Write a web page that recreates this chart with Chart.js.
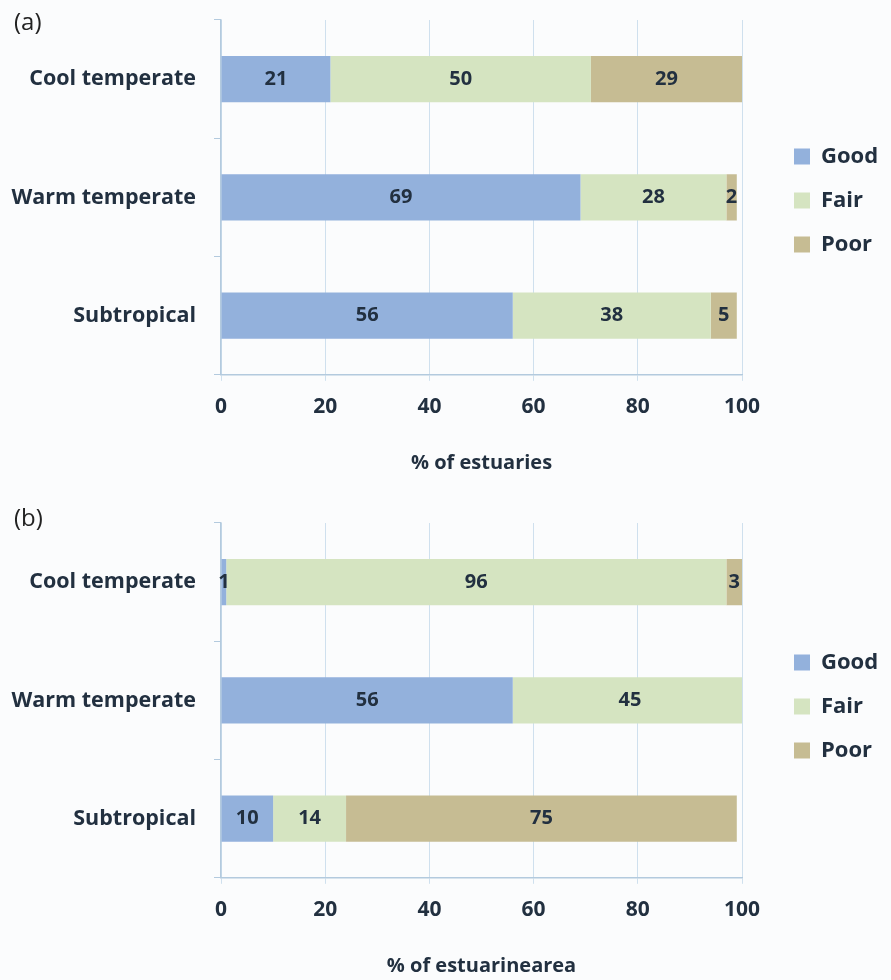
<!DOCTYPE html>
<html>
<head>
<meta charset="utf-8">
<script src="https://cdn.jsdelivr.net/npm/chart.js@4.4.1/dist/chart.umd.min.js"></script>
<style>
  body { margin: 0; background: #fbfcfd; }
  .panel { position: absolute; left: 0; width: 891px; }
  .tag { position: absolute; left: 14px; font: 24px "Open Sans", sans-serif; color: #222; }
</style>
</head>
<body>
<div class="panel" style="top:0;height:480px"><canvas id="chartA" width="891" height="480"></canvas></div>
<div class="tag" style="top:4px">(a)</div>
<div class="panel" style="top:480px;height:500px"><canvas id="chartB" width="891" height="500"></canvas></div>
<div class="tag" style="top:500px">(b)</div>
<script>
categories = ['Cool temperate', 'Warm temperate', 'Subtropical'];
series_names = ['Good', 'Fair', 'Poor'];

// (a) % of estuaries
good_a = [21, 69, 56];
fair_a = [50, 28, 38];
poor_a = [29, 2, 5];

// (b) % of estuarine area
good_b = [1, 56, 10];
fair_b = [96, 45, 14];
poor_b = [3, null, 75];

x_ticks = [0, 20, 40, 60, 80, 100];

colors = ['#93b1dc', '#d5e4c1', '#c6bc93'];
text_color = '#223040';
grid_color = '#cfe0ee';
axis_color = '#b3cade';

/**
 * Writes the value of each bar segment in its middle
 */
const valueLabels = {
  id: 'valueLabels',
  afterDatasetsDraw(chart) {
    const ctx = chart.ctx;
    ctx.save();
    ctx.font = 'bold 20px "Open Sans", sans-serif';
    ctx.fillStyle = text_color;
    ctx.textAlign = 'center';
    ctx.textBaseline = 'middle';
    chart.data.datasets.forEach(function(ds, i) {
      const meta = chart.getDatasetMeta(i);
      meta.data.forEach(function(bar, j) {
        const v = ds.data[j];
        if (v == null) return;
        ctx.fillText(String(v), (bar.x + bar.base) / 2, bar.y);
      });
    });
    ctx.restore();
  }
};

// legend keeps a fixed width so the plot ends at 100 where the original does,
// then gets nudged to where the original had it
const legendPlace = {
  id: 'legendPlace',
  beforeLayout(chart) {
    const lg = chart.legend;
    if (!lg || lg._fixed) return;
    const fit = lg.fit;
    lg.fit = function() { fit.call(this); this.width = 149; };
    lg._fixed = true;
  },
  afterLayout(chart, args, opts) {
    const lg = chart.legend;
    if (!lg) return;
    lg.left += opts.dx; lg.right += opts.dx;
    lg.top += opts.dy; lg.bottom += opts.dy;
  }
};

function makeChart(id, good, fair, poor, title, padTop, padBottom, legendDy) {
  const values = [good, fair, poor];
  const datasets = [];
  for (i = 0; i < series_names.length; i++) {
    datasets.push({
      label: series_names[i],
      data: values[i],
      backgroundColor: colors[i],
      borderWidth: 0,
      categoryPercentage: 0.39,
      barPercentage: 1
    });
  }

  return new Chart(document.getElementById(id), {
    type: 'bar',
    data: { labels: categories, datasets: datasets },
    plugins: [valueLabels, legendPlace],
    options: {
      indexAxis: 'y',
      responsive: false,
      animation: false,
      layout: { padding: { left: 10, right: 0, top: padTop, bottom: padBottom } },
      scales: {
        x: {
          stacked: true,
          min: 0,
          max: 100,
          afterBuildTicks: function(s) { s.ticks = x_ticks.map(function(v) { return { value: v }; }); },
          grid: { color: grid_color, tickLength: 6, drawTicks: true },
          border: { color: axis_color, width: 1.5 },
          ticks: { padding: 14, color: text_color, font: { family: 'Open Sans', size: 21, weight: 'bold' } },
          title: {
            display: true,
            text: title,
            color: text_color,
            padding: { top: 17, bottom: 0 },
            font: { family: 'Open Sans', size: 20, weight: 'bold' }
          }
        },
        y: {
          stacked: true,
          afterFit: function(s) { s.width = 211; s.paddingTop = 0; s.paddingBottom = 0; },
          grid: { drawOnChartArea: false, offset: true, tickLength: 7, color: axis_color },
          border: { color: axis_color, width: 1.5 },
          ticks: { padding: 18, color: text_color, font: { family: 'Open Sans', size: 21.5, weight: 'bold' } }
        }
      },
      plugins: {
        legend: {
          position: 'right',
          labels: {
            boxWidth: 16,
            boxHeight: 16,
            padding: 22,
            color: text_color,
            font: { family: 'Open Sans', size: 22, weight: 'bold' }
          }
        },
        legendPlace: { dx: 30, dy: legendDy },
        tooltip: { enabled: false }
      }
    }
  });
}

makeChart('chartA', good_a, fair_a, poor_a, '% of estuaries', 20, 5, -47);
makeChart('chartB', good_b, fair_b, poor_b, '% of estuarinearea', 43, 2, -44);
</script>
</body>
</html>
